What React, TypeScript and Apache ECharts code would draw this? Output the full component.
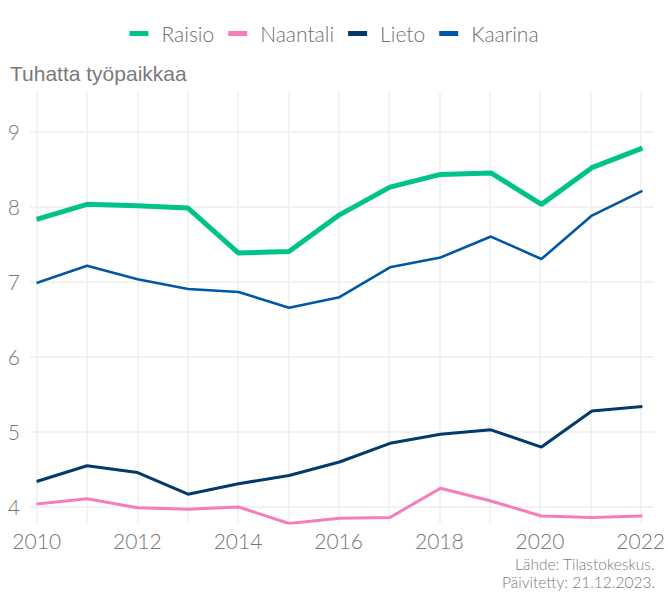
import React, { useEffect, useRef } from "react";
import * as echarts from "echarts";

const years = [2010, 2011, 2012, 2013, 2014, 2015, 2016, 2017, 2018, 2019, 2020, 2021, 2022];
const raisio = [7.83, 8.03, 8.01, 7.98, 7.38, 7.4, 7.89, 8.26, 8.43, 8.45, 8.03, 8.52, 8.78];
const naantali = [4.03, 4.1, 3.98, 3.96, 3.99, 3.77, 3.84, 3.85, 4.24, 4.07, 3.87, 3.85, 3.87];
const lieto = [4.33, 4.54, 4.45, 4.16, 4.3, 4.41, 4.59, 4.84, 4.96, 5.02, 4.79, 5.27, 5.33];
const kaarina = [6.98, 7.21, 7.03, 6.9, 6.86, 6.65, 6.79, 7.19, 7.32, 7.6, 7.3, 7.88, 8.21];
const seriesNames = ["Raisio", "Naantali", "Lieto", "Kaarina"];
const yTicks = [4, 5, 6, 7, 8, 9];

const colors = ["#00C389", "#F57EBA", "#013A6B", "#0057A6"];
const widths = [5, 3, 3, 2.6];

export default function App() {
  const ref = useRef<HTMLDivElement>(null);
  useEffect(() => {
    if (!ref.current) return;
    const chart = echarts.init(ref.current, null, { renderer: "svg" });
    const values = [raisio, naantali, lieto, kaarina];
    const labelFont = { fontFamily: "Lato", fontWeight: 300 as any, color: "#767676" };
    const option: any = {
      animation: false,
      backgroundColor: "#ffffff",
      legend: {
        top: 18,
        left: "center",
        icon: "rect",
        itemWidth: 19,
        itemHeight: 5,
        itemGap: 14,
        data: seriesNames,
        textStyle: { ...labelFont, fontSize: 21, color: "#707070", padding: [0, 0, 0, 8] },
      },
      grid: [
        { left: 30, right: 14, top: 92, bottom: 69 },
        { left: 36.7, right: 25.7, top: 92, bottom: 69 },
        { left: 30, right: 14, top: 131.7, bottom: 85.3 },
      ],
      xAxis: [
        {
          gridIndex: 0, type: "value", min: 2009.87, max: 2022.23,
          show: false, splitLine: { show: false },
        },
        {
          gridIndex: 1, type: "value", min: 2010, max: 2022, interval: 1,
          axisLine: { show: false }, axisTick: { show: false },
          splitLine: { show: true, lineStyle: { color: "#EEEEEE", width: 1.5 } },
          axisLabel: {
            ...labelFont, fontSize: 21, margin: 7,
            formatter: (v: number) => (v % 2 === 0 ? String(v) : ""),
          },
        },
        { gridIndex: 2, type: "value", min: 0, max: 1, show: false, splitLine: { show: false } },
      ],
      yAxis: [
        { gridIndex: 0, type: "value", min: 3.776, max: 9.53, show: false, splitLine: { show: false } },
        { gridIndex: 1, type: "value", min: 0, max: 1, show: false, splitLine: { show: false } },
        {
          gridIndex: 2, type: "value", min: yTicks[0], max: yTicks[yTicks.length - 1], interval: 1,
          axisLine: { show: false }, axisTick: { show: false },
          splitLine: { show: true, lineStyle: { color: "#EEEEEE", width: 1.5 } },
          axisLabel: { ...labelFont, fontSize: 21, margin: 10 },
        },
      ],
      graphic: [
        {
          type: "text", left: 10, top: 63,
          style: { text: "Tuhatta työpaikkaa", font: "21px 'Liberation Sans'", fill: "#7a7a7a" },
        },
        {
          type: "text", right: 13, top: 556,
          style: {
            text: "Lähde: Tilastokeskus.",
            font: "300 15.5px Lato", fill: "#7a7a7a", align: "right",
          },
        },
        {
          type: "text", right: 13, top: 573.5,
          style: {
            text: "Päivitetty: 21.12.2023.",
            font: "300 15.5px Lato", fill: "#7a7a7a", align: "right",
          },
        },
      ],
      series: seriesNames.map((name, i) => ({
        name,
        type: "line",
        xAxisIndex: 0,
        yAxisIndex: 0,
        showSymbol: false,
        symbol: "none",
        z: 10 - i,
        color: colors[i],
        lineStyle: { color: colors[i], width: widths[i] },
        data: years.map((y, k) => [y, values[i][k]]),
      })),
    };
    chart.setOption(option);
    return () => chart.dispose();
  }, []);
  return (
    <div
      ref={ref}
      style={{ position: "fixed", left: 0, top: 0, width: 668, height: 592 }}
    />
  );
}
